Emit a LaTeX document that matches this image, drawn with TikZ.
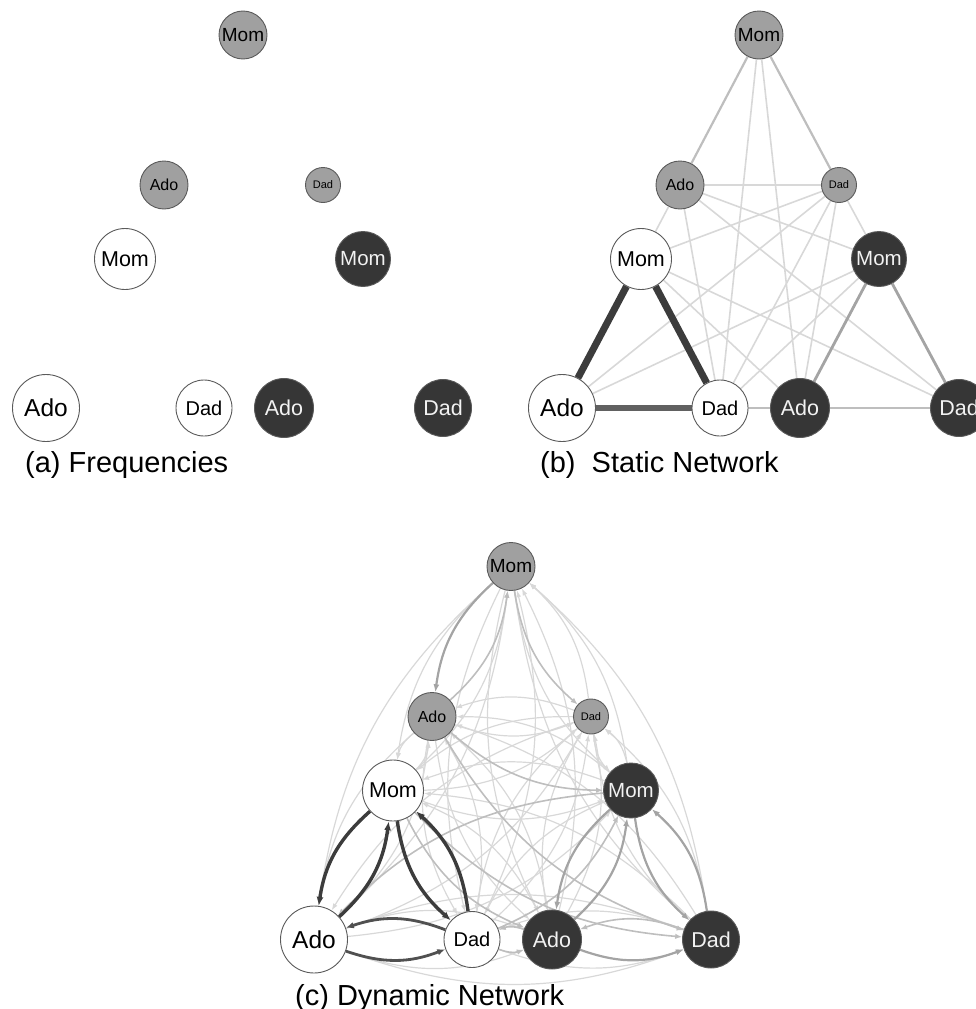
\documentclass[tikz,border=0pt]{standalone}
\usepackage{fontspec}
\setmainfont{Liberation Sans}
\usetikzlibrary{arrows.meta, backgrounds}
\definecolor{NodeLn}{HTML}{5A5A5A}
\definecolor{GrayF} {HTML}{A0A0A0}
\definecolor{DarkF} {HTML}{363636}
\definecolor{TxtW}  {HTML}{F2F2F2}
\definecolor{EOne}  {HTML}{D8D8D8}
\definecolor{ETwo}  {HTML}{BEBEBE}
\definecolor{EThree}{HTML}{A4A4A4}
\definecolor{EFour} {HTML}{505050}
\definecolor{EFive} {HTML}{3C3C3C}
\tikzset{
  pn/.style args={#1/#2/#3/#4}{
    circle, draw=NodeLn, line width=0.9pt,
    fill=#1, text=#2, minimum size=#3, inner sep=0pt,
    font=\fontsize{#4}{#4}\selectfont,
  },
  lbl/.style={
    font=\fontsize{29}{34}\selectfont, inner sep=0pt, anchor=base west,
  },
  % static network lines
  bl1/.style={draw=EOne, line width=1.6pt},
  bl2/.style={draw=ETwo, line width=2.2pt},
  bl3/.style={draw=EThree, line width=2.8pt},
  bl4/.style={draw=EFour!90!white, line width=5.5pt},
  bl5/.style={draw=EFive, line width=7pt},
  % dynamic network arrows
  dyn/.style={bend right=20},
  ar1/.style={dyn, draw=EOne, line width=1.2pt, -{Latex[length=7pt,width=5pt]}},
  ar2/.style={dyn, draw=ETwo, line width=1.6pt, -{Latex[length=7pt,width=5.5pt]}},
  ar3/.style={dyn, draw=EThree, line width=2.2pt, -{Latex[length=8pt,width=6pt]}},
  ar4/.style={dyn, draw=EFour, line width=2.8pt, -{Latex[length=8pt,width=6.5pt]}},
  ar5/.style={dyn, draw=EFive, line width=3.4pt, -{Latex[length=9pt,width=7pt]}},
}

\begin{document}
\begin{tikzpicture}[x=1pt,y=-1pt]
  \useasboundingbox (0,0) rectangle (976,1009);

  % the same nine persons in each panel
  \foreach \p/\dx/\dy in {a/0/0, b/516/0, c/268/531.5}{
    \begin{scope}[shift={(\dx,\dy)}]
      \node[pn=GrayF/black/48/19]   (\p-Mg) at (243,35)  {Mom};
      \node[pn=GrayF/black/48/16]   (\p-Ag) at (164,185) {Ado};
      \node[pn=GrayF/black/35/11]   (\p-Dg) at (323,185) {Dad};
      \node[pn=white/black/61/21.5] (\p-Mw) at (125,259) {Mom};
      \node[pn=DarkF/TxtW/55/20.5]  (\p-Md) at (363,259) {Mom};
      \node[pn=white/black/67/24.5] (\p-Aw) at (46,408)  {Ado};
      \node[pn=white/black/56/20]   (\p-Dw) at (204,408) {Dad};
      \node[pn=DarkF/TxtW/59/21.5]  (\p-Ad) at (284,408) {Ado};
      \node[pn=DarkF/TxtW/57/21.5]  (\p-Dd) at (443,408) {Dad};
    \end{scope}
  }

  \node[lbl] (la) at (25,472)   {(a) Frequencies};
  \node[lbl] (lb) at (540,472)  {(b)\ \ Static Network};
  \node[lbl] (lc) at (295,1005) {(c) Dynamic Network};

  \begin{scope}[on background layer]
    % (b) static
    \foreach \u/\v in {Mg/Dw, Mg/Ad, Ag/Dg, Ag/Mw, Ag/Dw, Ag/Md, Ag/Dd, Dg/Mw, Dg/Aw,
                       Dg/Dw, Dg/Ad, Dg/Md, Mw/Ad, Mw/Dd, Md/Aw, Md/Dw}
      \draw[bl1] (b-\u) -- (b-\v);
    \foreach \u/\v in {Mg/Ag, Mg/Dg, Ad/Dd, Dw/Ad}
      \draw[bl2] (b-\u) -- (b-\v);
    \foreach \u/\v in {Md/Ad, Md/Dd}
      \draw[bl3] (b-\u) -- (b-\v);
    \draw[bl4] (b-Aw) -- (b-Dw);
    \draw[bl5] (b-Mw) -- (b-Aw);
    \draw[bl5] (b-Mw) -- (b-Dw);

    % (c) dynamic
    \foreach \u/\v in {Dg/Mg, Mg/Mw, Mw/Mg, Mg/Md, Md/Mg, Mg/Aw, Aw/Mg, Mg/Dw, Dw/Mg,
                       Mg/Ad, Ad/Mg, Mg/Dd, Dd/Mg, Ag/Dg, Dg/Ag, Ag/Mw, Mw/Ag, Md/Ag,
                       Ag/Aw, Aw/Ag, Ag/Dw, Dw/Ag, Ag/Ad, Ad/Ag, Dd/Ag, Dg/Mw, Mw/Dg,
                       Dg/Md, Md/Dg, Dg/Aw, Aw/Dg, Dg/Dw, Dw/Dg, Dg/Ad, Ad/Dg, Dg/Dd,
                       Dd/Dg, Mw/Md, Md/Mw, Ad/Mw, Dd/Mw, Aw/Md, Md/Dw, Aw/Ad, Ad/Aw,
                       Aw/Dd, Dd/Aw, Dw/Dd, Dd/Dw}
      \draw[ar1] (c-\u) to (c-\v);
    \foreach \u/\v in {Ag/Mg, Mg/Dg, Ag/Md, Ag/Dd, Mw/Ad, Mw/Dd, Md/Aw, Dw/Md, Dw/Ad,
                       Ad/Dw, Dd/Ad}
      \draw[ar2] (c-\u) to (c-\v);
    \foreach \u/\v in {Mg/Ag, Md/Ad, Ad/Md, Md/Dd, Dd/Md, Ad/Dd}
      \draw[ar3] (c-\u) to (c-\v);
    \foreach \u/\v in {Aw/Dw, Dw/Aw}
      \draw[ar4] (c-\u) to (c-\v);
    \foreach \u/\v in {Mw/Aw, Aw/Mw, Mw/Dw, Dw/Mw}
      \draw[ar5] (c-\u) to (c-\v);
  \end{scope}
\end{tikzpicture}
\end{document}
